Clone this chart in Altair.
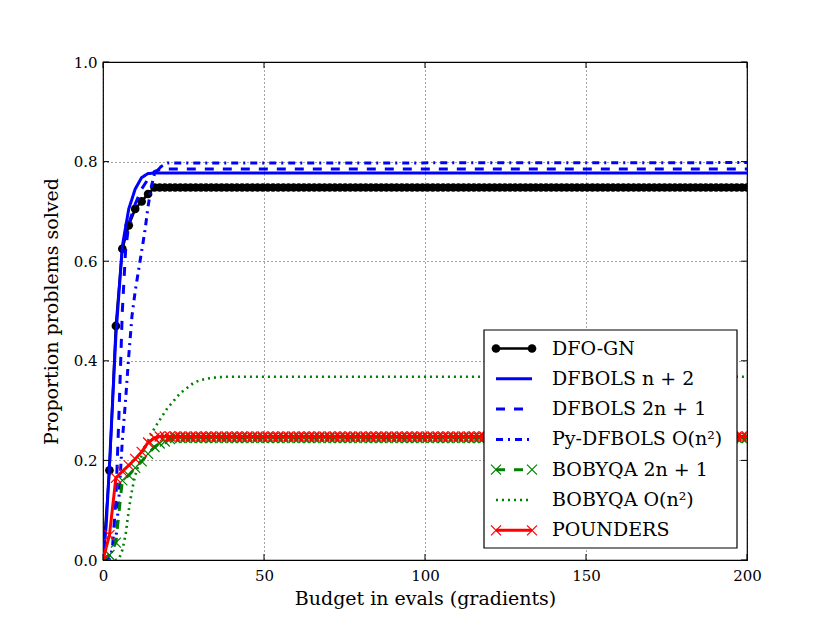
import altair as alt
import pandas as pd

# ---------------- data ----------------
series = ["DFO-GN", "DFBOLS n+2", "DFBOLS 2n+1", "Py-DFBOLS O(n2)",
          "BOBYQA 2n+1", "BOBYQA O(n2)", "POUNDERS"]
labels = ["DFO-GN", "DFBOLS n + 2", "DFBOLS 2n + 1", "Py-DFBOLS O(n²)",
          "BOBYQA 2n + 1", "BOBYQA O(n²)", "POUNDERS"]

# sample grid of the marked series (budget in gradients)
marker_x_head = [0, 2, 4, 6, 8, 10, 12, 14, 16]
marker_x_tail = [round(17.6 + 1.6 * i, 1) for i in range(115)]
marker_x = marker_x_head + marker_x_tail

dfo_gn_y = [0, 0.18, 0.47, 0.625, 0.672, 0.705, 0.72, 0.735, 0.748] + [0.748] * 115
bobyqa_2n1_y = [0, 0.01, 0.035, 0.16, 0.17, 0.185, 0.198, 0.213, 0.227] + [0.234, 0.238, 0.243] + [0.245] * 112
pounders_y = [0, 0.05, 0.165, 0.178, 0.19, 0.203, 0.217, 0.236, 0.245] + [0.248] * 115

dfbols_n2_x = [0, 1, 2, 4, 6, 8, 10, 12, 14, 16, 200]
dfbols_n2_y = [0, 0.07, 0.19, 0.45, 0.63, 0.705, 0.745, 0.768, 0.776, 0.777, 0.777]

dfbols_2n1_x = [0, 2, 3, 4, 5, 6, 7, 8, 10, 12, 14, 16, 18, 200]
dfbols_2n1_y = [0, 0.01, 0.03, 0.12, 0.3, 0.5, 0.62, 0.675, 0.715, 0.745, 0.765, 0.78, 0.785, 0.785]

pydfbols_x = [0, 2, 4, 5, 6, 7, 8, 9, 10, 11, 12, 13, 14, 15, 16, 18, 20, 200]
pydfbols_y = [0, 0.005, 0.04, 0.13, 0.24, 0.32, 0.41, 0.49, 0.54, 0.58, 0.62, 0.66, 0.71, 0.75, 0.775, 0.79, 0.797, 0.798]

bobyqa_on2_x = [0, 4, 5, 6, 7, 8, 9, 10, 12, 14, 16, 18, 20, 22, 24, 26, 28, 30, 34, 38, 200]
bobyqa_on2_y = [0, 0, 0.003, 0.02, 0.05, 0.1, 0.14, 0.17, 0.21, 0.24, 0.265, 0.285, 0.305, 0.32, 0.335, 0.345, 0.355, 0.361, 0.366, 0.368, 0.368]

x_ticks = [0, 50, 100, 150, 200]
y_ticks = [0.0, 0.2, 0.4, 0.6, 0.8, 1.0]

# ---------------- styles ----------------
colors = {"DFO-GN": "#000000", "DFBOLS n+2": "#0000ff", "DFBOLS 2n+1": "#0000ff",
          "Py-DFBOLS O(n2)": "#0000ff", "BOBYQA 2n+1": "#008000",
          "BOBYQA O(n2)": "#008000", "POUNDERS": "#ff0000"}
dashes = {"DFO-GN": [1, 0], "DFBOLS n+2": [1, 0], "DFBOLS 2n+1": [9, 9],
          "Py-DFBOLS O(n2)": [7, 5, 2, 5], "BOBYQA 2n+1": [9, 9],
          "BOBYQA O(n2)": [2, 4], "POUNDERS": [1, 0]}
widths = {"DFO-GN": 2.6, "DFBOLS n+2": 3, "DFBOLS 2n+1": 3, "Py-DFBOLS O(n2)": 3,
          "BOBYQA 2n+1": 3, "BOBYQA O(n2)": 2.6, "POUNDERS": 3}
X_PATH = "M-1,-1L1,1M-1,1L1,-1"
markers = {"DFO-GN": ("circle", True, 75), "BOBYQA 2n+1": (X_PATH, False, 100),
           "POUNDERS": (X_PATH, False, 100)}

data = {
    "DFO-GN": (marker_x, dfo_gn_y),
    "DFBOLS n+2": (dfbols_n2_x, dfbols_n2_y),
    "DFBOLS 2n+1": (dfbols_2n1_x, dfbols_2n1_y),
    "Py-DFBOLS O(n2)": (pydfbols_x, pydfbols_y),
    "BOBYQA 2n+1": (marker_x, bobyqa_2n1_y),
    "BOBYQA O(n2)": (bobyqa_on2_x, bobyqa_on2_y),
    "POUNDERS": (marker_x, pounders_y),
}

W, H = 644, 498
FONT = "DejaVu Serif"

xscale = alt.Scale(domain=[0, 200], nice=False, zero=False)
yscale = alt.Scale(domain=[0, 1], nice=False)

layers = []

# axes + grid carried by an invisible first layer
axis_df = pd.DataFrame({"x": [0, 200], "y": [0, 1]})
layers.append(
    alt.Chart(axis_df).mark_point(opacity=0).encode(
        x=alt.X("x:Q", scale=xscale,
                axis=alt.Axis(values=x_ticks, title="Budget in evals (gradients)",
                              labelPadding=8, titlePadding=6, format="d",
                              labelFlush=False, labelOverlap=False)),
        y=alt.Y("y:Q", scale=yscale,
                axis=alt.Axis(values=y_ticks, title="Proportion problems solved",
                              format=".1f", labelPadding=6, titlePadding=12,
                              labelFlush=False, labelOverlap=False)),
    )
)

for s in series:
    xs, ys = data[s]
    df = pd.DataFrame({"x": xs, "y": ys, "series": s})
    layers.append(
        alt.Chart(df).mark_line(color=colors[s], strokeDash=dashes[s],
                                strokeWidth=widths[s], clip=True).encode(
            x=alt.X("x:Q", scale=xscale), y=alt.Y("y:Q", scale=yscale))
    )
    if s in markers:
        shape, filled, size = markers[s]
        layers.append(
            alt.Chart(df).mark_point(shape=shape, filled=filled, size=size,
                                     color=colors[s], strokeWidth=1.2, opacity=1,
                                     clip=True).encode(
                x=alt.X("x:Q", scale=xscale), y=alt.Y("y:Q", scale=yscale))
        )

# inward tick marks on all four sides
TICK = 6
xt = pd.DataFrame({"x": x_ticks})
yt = pd.DataFrame({"y": y_ticks})
layers.append(alt.Chart(xt).mark_rule(color="black", strokeWidth=1).encode(
    x=alt.X("x:Q", scale=xscale), y=alt.value(H - TICK), y2=alt.value(H)))
layers.append(alt.Chart(xt).mark_rule(color="black", strokeWidth=1).encode(
    x=alt.X("x:Q", scale=xscale), y=alt.value(0), y2=alt.value(TICK)))
layers.append(alt.Chart(yt).mark_rule(color="black", strokeWidth=1).encode(
    y=alt.Y("y:Q", scale=yscale), x=alt.value(0), x2=alt.value(TICK)))
layers.append(alt.Chart(yt).mark_rule(color="black", strokeWidth=1).encode(
    y=alt.Y("y:Q", scale=yscale), x=alt.value(W - TICK), x2=alt.value(W)))

# ---------------- legend box ----------------
one = pd.DataFrame({"k": [0]})
LX0, LX1, LY0, LY1 = 381, 634, 268, 486
layers.append(alt.Chart(one).mark_rect(fill="white", stroke="black", strokeWidth=1.2).encode(
    x=alt.value(LX0), x2=alt.value(LX1), y=alt.value(LY0), y2=alt.value(LY1)))

ROW0, ROWSTEP = 286.5, 30.3
SX0, SX1, TX = 393, 429, 449
for i, (s, lab) in enumerate(zip(series, labels)):
    ry = ROW0 + i * ROWSTEP
    layers.append(alt.Chart(one).mark_rule(color=colors[s], strokeDash=dashes[s],
                                           strokeWidth=widths[s]).encode(
        x=alt.value(SX0), x2=alt.value(SX1), y=alt.value(ry)))
    if s in markers:
        shape, filled, size = markers[s]
        for px in (SX0, SX1):
            layers.append(alt.Chart(one).mark_point(shape=shape, filled=filled, size=size,
                                                    color=colors[s], strokeWidth=1.2,
                                                    opacity=1).encode(
                x=alt.value(px), y=alt.value(ry)))
    layers.append(alt.Chart(one).mark_text(text=lab, align="left", baseline="middle",
                                           font=FONT, fontSize=19, color="black").encode(
        x=alt.value(TX), y=alt.value(ry)))

chart = alt.layer(*layers).properties(
    width=W, height=H,
    padding={"left": 95, "top": 54, "right": 70, "bottom": 62},
    autosize=alt.AutoSizeParams(type="none"),
).configure_view(
    stroke="black", strokeWidth=1.2
).configure_axis(
    labelFont=FONT, titleFont=FONT, labelFontSize=15, titleFontSize=19,
    labelColor="black", titleColor="black", titleFontWeight="normal",
    domain=False, ticks=False,
    grid=True, gridColor="black", gridDash=[1, 3], gridWidth=0.8, gridOpacity=0.9,
)

chart.save("out.html", embed_options={"renderer": "svg", "actions": False})
